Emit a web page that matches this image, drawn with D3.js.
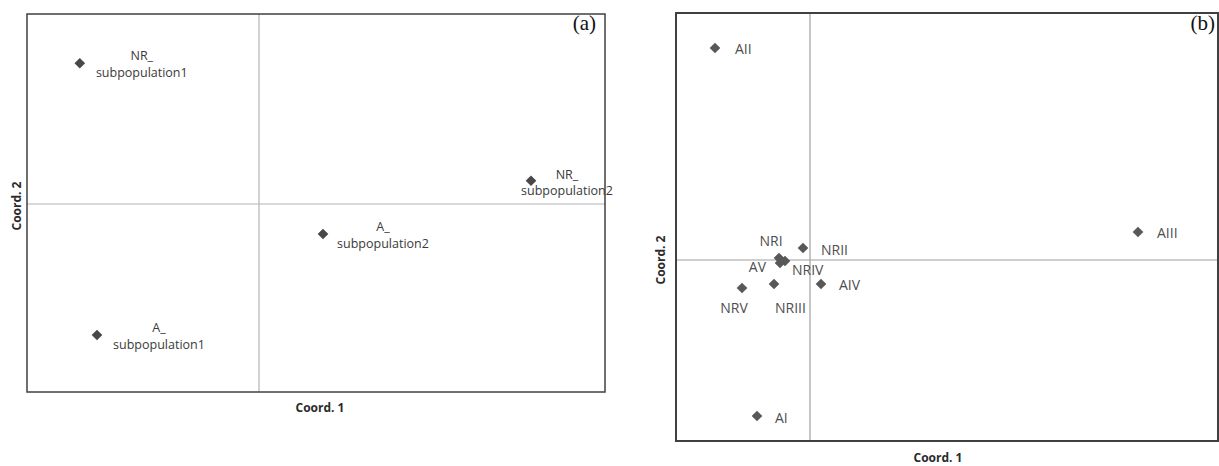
<!DOCTYPE html>
<html><head><meta charset="utf-8">
<script src="https://cdn.jsdelivr.net/npm/d3@7"></script>
<style>body{margin:0;background:#fff}svg{display:block}</style>
</head><body>
<svg id="chart" width="1219" height="466"></svg>
<script>
// ---- Data: panel (a) ----
const aNames = ["NR_|subpopulation1", "NR_|subpopulation2", "A_|subpopulation2", "A_|subpopulation1"];
const aCoord1 = [-0.448, 0.68, 0.16, -0.405];
const aCoord2 = [0.352, 0.058, -0.075, -0.3275];
const aDomainX = [-0.58, 0.865];
const aDomainY = [-0.47, 0.475];

// ---- Data: panel (b) ----
const bNames = ["AII", "AIII", "NRII", "NRI", "AV", "NRIV", "NRV", "NRIII", "AIV", "AI"];
const bCoord1 = [-0.19, 0.656, -0.014, -0.062, -0.06, -0.05, -0.136, -0.072, 0.022, -0.106];
const bCoord2 = [0.424, 0.056, 0.024, 0.004, -0.006, -0.002, -0.056, -0.048, -0.048, -0.312];
const bDomainX = [-0.268, 0.816];
const bDomainY = [-0.362, 0.494];

const axisTitles = ["Coord. 1", "Coord. 2"];
const panelTags = ["(a)", "(b)"];

// ---- Label placement (style) ----
const aLabelStyle = [
  {dx: 62, dy1: -3, dy2: 14},
  {dx: 36, dy1: -2, dy2: 14},
  {dx: 60, dy1: -3, dy2: 14},
  {dx: 62, dy1: -3, dy2: 14}
];
const bLabelStyle = {
  "AII":   {dx: 20, dy: 6, anchor: "start"},
  "AIII":  {dx: 19, dy: 6, anchor: "start"},
  "NRII":  {dx: 18, dy: 7, anchor: "start"},
  "NRI":   {dx: -8, dy: -12, anchor: "middle"},
  "AV":    {dx: -14, dy: 9, anchor: "end"},
  "NRIV":  {dx: 7, dy: 14, anchor: "start"},
  "NRV":   {dx: -8, dy: 25, anchor: "middle"},
  "NRIII": {dx: 1, dy: 29, anchor: "start"},
  "AIV":   {dx: 18, dy: 6, anchor: "start"},
  "AI":    {dx: 18, dy: 7, anchor: "start"}
};

const svg = d3.select("#chart");
const diamond = d3.symbol().type(d3.symbolDiamond2).size(72);
const sans = "Open Sans, sans-serif";

// ---------- Panel (a) ----------
{
  const L = 27, R = 605, T = 14, B = 392;
  const x = d3.scaleLinear().domain(aDomainX).range([L, R]);
  const y = d3.scaleLinear().domain(aDomainY).range([B, T]);
  const g = svg.append("g");
  g.append("line").attr("x1", x(0)).attr("x2", x(0)).attr("y1", T).attr("y2", B)
    .attr("stroke", "#b4b4b4").attr("stroke-width", 1.2);
  g.append("line").attr("x1", L).attr("x2", R).attr("y1", y(0)).attr("y2", y(0))
    .attr("stroke", "#b4b4b4").attr("stroke-width", 1.2);
  g.append("rect").attr("x", L).attr("y", T).attr("width", R - L).attr("height", B - T)
    .attr("fill", "none").attr("stroke", "#404040").attr("stroke-width", 1.5);
  const pts = aNames.map((n, i) => ({n, cx: aCoord1[i], cy: aCoord2[i], s: aLabelStyle[i]}));
  pts.forEach(p => {
    const px = x(p.cx), py = y(p.cy);
    g.append("path").attr("d", diamond).attr("transform", `translate(${px},${py})`).attr("fill", "#484848");
    const parts = p.n.split("|");
    g.append("text").attr("x", px + p.s.dx).attr("y", py + p.s.dy1).attr("text-anchor", "middle")
      .attr("font-family", sans).attr("font-size", 12.5).attr("fill", "#3a3a3a").text(parts[0]);
    g.append("text").attr("x", px + p.s.dx).attr("y", py + p.s.dy2).attr("text-anchor", "middle")
      .attr("font-family", sans).attr("font-size", 12.5).attr("fill", "#3a3a3a").text(parts[1]);
  });
  g.append("text").attr("x", 320).attr("y", 412).attr("text-anchor", "middle")
    .attr("font-family", sans).attr("font-weight", "bold").attr("font-size", 12)
    .attr("fill", "#2a2a2a").text(axisTitles[0]);
  g.append("text").attr("transform", `translate(21,${y(0) + 2}) rotate(-90)`).attr("text-anchor", "middle")
    .attr("font-family", sans).attr("font-weight", "bold").attr("font-size", 12)
    .attr("fill", "#2a2a2a").text(axisTitles[1]);
  g.append("text").attr("x", 596).attr("y", 30).attr("text-anchor", "end")
    .attr("font-family", "Liberation Serif, serif").attr("font-size", 21).attr("fill", "#111").text(panelTags[0]);
}

// ---------- Panel (b) ----------
{
  const L = 676, R = 1218, T = 13, B = 441;
  const x = d3.scaleLinear().domain(bDomainX).range([L, R]);
  const y = d3.scaleLinear().domain(bDomainY).range([B, T]);
  const g = svg.append("g");
  g.append("line").attr("x1", x(0)).attr("x2", x(0)).attr("y1", T).attr("y2", B)
    .attr("stroke", "#a0a0a0").attr("stroke-width", 1.2);
  g.append("line").attr("x1", L).attr("x2", R).attr("y1", y(0)).attr("y2", y(0))
    .attr("stroke", "#a0a0a0").attr("stroke-width", 1.2);
  g.append("rect").attr("x", L).attr("y", T).attr("width", R - L).attr("height", B - T)
    .attr("fill", "none").attr("stroke", "#404040").attr("stroke-width", 2);
  const pts = bNames.map((n, i) => ({n, cx: bCoord1[i], cy: bCoord2[i], s: bLabelStyle[n]}));
  pts.forEach(p => {
    g.append("path").attr("d", diamond).attr("transform", `translate(${x(p.cx)},${y(p.cy)})`).attr("fill", "#585858");
  });
  pts.forEach(p => {
    g.append("text").attr("x", x(p.cx) + p.s.dx).attr("y", y(p.cy) + p.s.dy).attr("text-anchor", p.s.anchor)
      .attr("font-family", sans).attr("font-size", 14).attr("fill", "#4e4e4e").text(p.n);
  });
  g.append("text").attr("x", 938).attr("y", 462).attr("text-anchor", "middle")
    .attr("font-family", sans).attr("font-weight", "bold").attr("font-size", 12)
    .attr("fill", "#2a2a2a").text(axisTitles[0]);
  g.append("text").attr("transform", `translate(665,${y(0)}) rotate(-90)`).attr("text-anchor", "middle")
    .attr("font-family", sans).attr("font-weight", "bold").attr("font-size", 12)
    .attr("fill", "#2a2a2a").text(axisTitles[1]);
  g.append("text").attr("x", 1215).attr("y", 30).attr("text-anchor", "end")
    .attr("font-family", "Liberation Serif, serif").attr("font-size", 21).attr("fill", "#111").text(panelTags[1]);
}
</script>
</body></html>
